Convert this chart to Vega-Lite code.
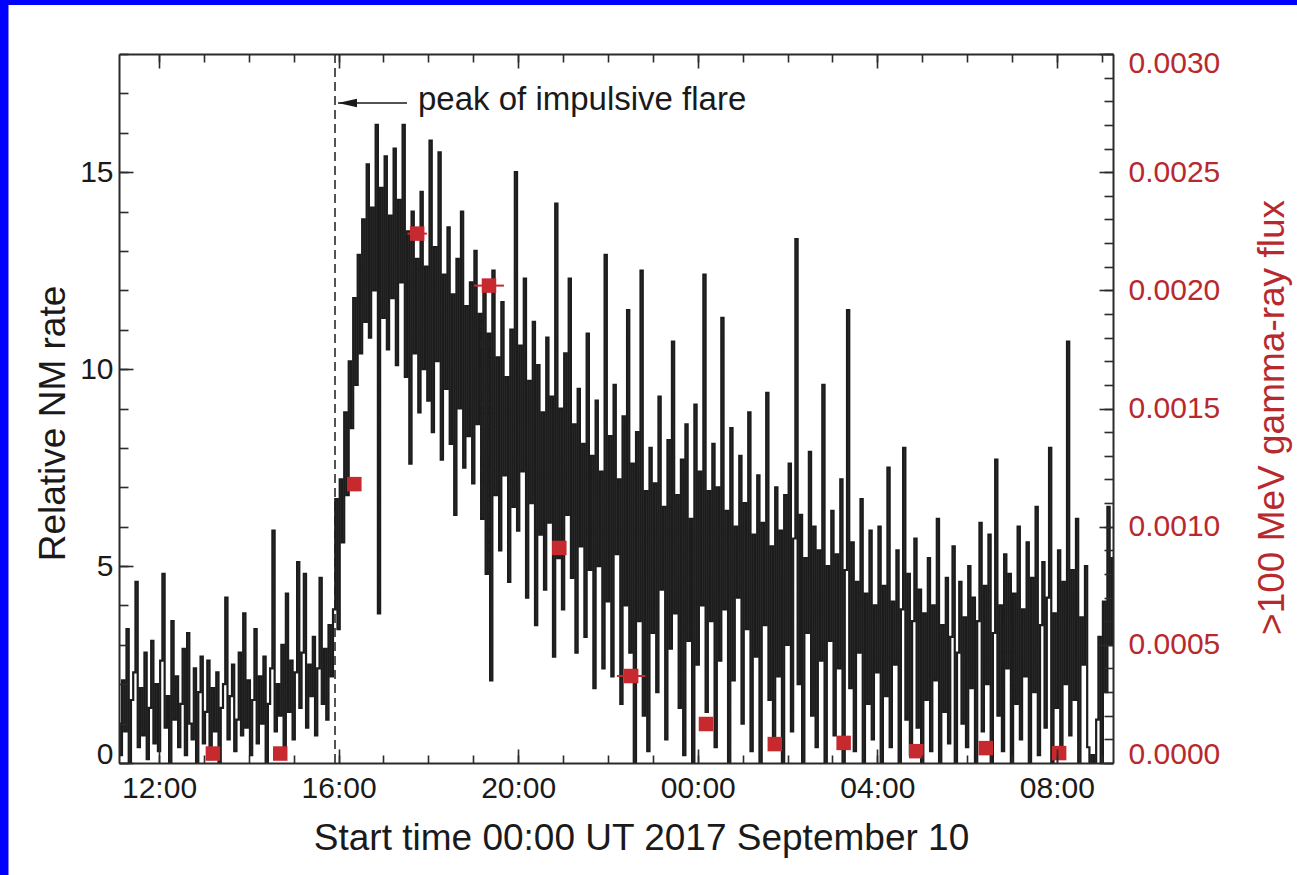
{
  "$schema": "https://vega.github.io/schema/vega-lite/v6.json",
  "width": 994,
  "height": 709,
  "autosize": {"type": "none"},
  "padding": {"left": 119, "top": 54, "right": 184, "bottom": 112},
  "background": "#0000ff",
  "config": {
    "font": "Liberation Sans",
    "view": {"stroke": null},
    "axis": {
      "grid": false, "zindex": 1,
      "domainColor": "#2b2b2b", "domainWidth": 2,
      "tickColor": "#2b2b2b", "tickWidth": 1.6,
      "labelFont": "Liberation Sans", "labelFontSize": 30, "labelColor": "#1a1a1a",
      "titleFont": "Liberation Sans", "titleFontSize": 37, "titleFontWeight": "normal", "titleColor": "#1a1a1a"
    }
  },
  "datasets": {
    "nm": [
      {"t":"2017-09-10T11:06Z","v":1.0},{"t":"2017-09-10T11:09Z","v":0.2},{"t":"2017-09-10T11:12Z","v":2.1},{"t":"2017-09-10T11:15Z","v":0.8},{"t":"2017-09-10T11:18Z","v":3.4},{"t":"2017-09-10T11:21Z","v":0.0},{"t":"2017-09-10T11:24Z","v":1.6},{"t":"2017-09-10T11:27Z","v":2.3},{"t":"2017-09-10T11:30Z","v":4.6},{"t":"2017-09-10T11:33Z","v":0.4},{"t":"2017-09-10T11:36Z","v":1.9},{"t":"2017-09-10T11:39Z","v":0.7},{"t":"2017-09-10T11:42Z","v":2.8},{"t":"2017-09-10T11:45Z","v":0.1},{"t":"2017-09-10T11:48Z","v":1.4},{"t":"2017-09-10T11:51Z","v":3.1},{"t":"2017-09-10T11:54Z","v":0.5},{"t":"2017-09-10T11:57Z","v":2.0},
      {"t":"2017-09-10T12:00Z","v":0.3},{"t":"2017-09-10T12:03Z","v":2.6},{"t":"2017-09-10T12:06Z","v":4.8},{"t":"2017-09-10T12:09Z","v":0.9},{"t":"2017-09-10T12:12Z","v":1.7},{"t":"2017-09-10T12:15Z","v":0.0},{"t":"2017-09-10T12:18Z","v":3.6},{"t":"2017-09-10T12:21Z","v":1.1},{"t":"2017-09-10T12:24Z","v":2.2},{"t":"2017-09-10T12:27Z","v":0.4},{"t":"2017-09-10T12:30Z","v":1.5},{"t":"2017-09-10T12:33Z","v":2.9},{"t":"2017-09-10T12:36Z","v":0.2},{"t":"2017-09-10T12:39Z","v":3.3},{"t":"2017-09-10T12:42Z","v":1.0},{"t":"2017-09-10T12:45Z","v":0.6},{"t":"2017-09-10T12:48Z","v":2.4},{"t":"2017-09-10T12:51Z","v":0.0},{"t":"2017-09-10T12:54Z","v":1.8},{"t":"2017-09-10T12:57Z","v":2.7},
      {"t":"2017-09-10T13:00Z","v":0.5},{"t":"2017-09-10T13:03Z","v":1.3},{"t":"2017-09-10T13:06Z","v":2.6},{"t":"2017-09-10T13:09Z","v":0.1},{"t":"2017-09-10T13:12Z","v":1.9},{"t":"2017-09-10T13:15Z","v":0.8},{"t":"2017-09-10T13:18Z","v":2.3},{"t":"2017-09-10T13:21Z","v":0.0},{"t":"2017-09-10T13:24Z","v":1.4},{"t":"2017-09-10T13:27Z","v":2.0},{"t":"2017-09-10T13:30Z","v":4.2},{"t":"2017-09-10T13:33Z","v":0.6},{"t":"2017-09-10T13:36Z","v":1.7},{"t":"2017-09-10T13:39Z","v":2.5},{"t":"2017-09-10T13:42Z","v":0.3},{"t":"2017-09-10T13:45Z","v":1.1},{"t":"2017-09-10T13:48Z","v":2.8},{"t":"2017-09-10T13:51Z","v":0.7},{"t":"2017-09-10T13:54Z","v":3.8},{"t":"2017-09-10T13:57Z","v":0.9},
      {"t":"2017-09-10T14:00Z","v":2.1},{"t":"2017-09-10T14:03Z","v":0.2},{"t":"2017-09-10T14:06Z","v":1.6},{"t":"2017-09-10T14:09Z","v":3.4},{"t":"2017-09-10T14:12Z","v":0.5},{"t":"2017-09-10T14:15Z","v":2.2},{"t":"2017-09-10T14:18Z","v":1.0},{"t":"2017-09-10T14:21Z","v":2.7},{"t":"2017-09-10T14:24Z","v":0.0},{"t":"2017-09-10T14:27Z","v":1.5},{"t":"2017-09-10T14:30Z","v":2.4},{"t":"2017-09-10T14:33Z","v":5.9},{"t":"2017-09-10T14:36Z","v":0.8},{"t":"2017-09-10T14:39Z","v":2.0},{"t":"2017-09-10T14:42Z","v":1.2},{"t":"2017-09-10T14:45Z","v":3.0},{"t":"2017-09-10T14:48Z","v":0.4},{"t":"2017-09-10T14:51Z","v":4.3},{"t":"2017-09-10T14:54Z","v":1.3},{"t":"2017-09-10T14:57Z","v":2.6},
      {"t":"2017-09-10T15:00Z","v":0.6},{"t":"2017-09-10T15:03Z","v":2.3},{"t":"2017-09-10T15:06Z","v":5.1},{"t":"2017-09-10T15:09Z","v":1.4},{"t":"2017-09-10T15:12Z","v":2.8},{"t":"2017-09-10T15:15Z","v":4.8},{"t":"2017-09-10T15:18Z","v":0.9},{"t":"2017-09-10T15:21Z","v":2.5},{"t":"2017-09-10T15:24Z","v":1.7},{"t":"2017-09-10T15:27Z","v":3.2},{"t":"2017-09-10T15:30Z","v":0.7},{"t":"2017-09-10T15:33Z","v":2.4},{"t":"2017-09-10T15:36Z","v":4.7},{"t":"2017-09-10T15:39Z","v":1.5},{"t":"2017-09-10T15:42Z","v":2.9},{"t":"2017-09-10T15:45Z","v":1.1},{"t":"2017-09-10T15:48Z","v":3.5},{"t":"2017-09-10T15:51Z","v":2.2},{"t":"2017-09-10T15:54Z","v":3.9},{"t":"2017-09-10T15:57Z","v":6.7},
      {"t":"2017-09-10T16:00Z","v":3.4},{"t":"2017-09-10T16:03Z","v":7.2},{"t":"2017-09-10T16:06Z","v":5.6},{"t":"2017-09-10T16:09Z","v":8.9},{"t":"2017-09-10T16:12Z","v":6.8},{"t":"2017-09-10T16:15Z","v":10.2},{"t":"2017-09-10T16:18Z","v":8.5},{"t":"2017-09-10T16:21Z","v":11.8},{"t":"2017-09-10T16:24Z","v":9.6},{"t":"2017-09-10T16:27Z","v":12.9},{"t":"2017-09-10T16:30Z","v":10.4},{"t":"2017-09-10T16:33Z","v":13.8},{"t":"2017-09-10T16:36Z","v":11.2},{"t":"2017-09-10T16:39Z","v":15.2},{"t":"2017-09-10T16:42Z","v":10.8},{"t":"2017-09-10T16:45Z","v":14.1},{"t":"2017-09-10T16:48Z","v":12.0},{"t":"2017-09-10T16:51Z","v":16.2},{"t":"2017-09-10T16:54Z","v":3.8},{"t":"2017-09-10T16:57Z","v":14.6},
      {"t":"2017-09-10T17:00Z","v":11.3},{"t":"2017-09-10T17:03Z","v":15.4},{"t":"2017-09-10T17:06Z","v":10.5},{"t":"2017-09-10T17:09Z","v":13.9},{"t":"2017-09-10T17:12Z","v":11.8},{"t":"2017-09-10T17:15Z","v":15.6},{"t":"2017-09-10T17:18Z","v":10.1},{"t":"2017-09-10T17:21Z","v":14.3},{"t":"2017-09-10T17:24Z","v":12.2},{"t":"2017-09-10T17:27Z","v":16.2},{"t":"2017-09-10T17:30Z","v":9.8},{"t":"2017-09-10T17:33Z","v":13.5},{"t":"2017-09-10T17:36Z","v":7.6},{"t":"2017-09-10T17:39Z","v":14.0},{"t":"2017-09-10T17:42Z","v":10.4},{"t":"2017-09-10T17:45Z","v":12.8},{"t":"2017-09-10T17:48Z","v":8.9},{"t":"2017-09-10T17:51Z","v":14.5},{"t":"2017-09-10T17:54Z","v":10.0},{"t":"2017-09-10T17:57Z","v":12.6},
      {"t":"2017-09-10T18:00Z","v":9.2},{"t":"2017-09-10T18:03Z","v":15.8},{"t":"2017-09-10T18:06Z","v":8.4},{"t":"2017-09-10T18:09Z","v":13.1},{"t":"2017-09-10T18:12Z","v":10.2},{"t":"2017-09-10T18:15Z","v":15.5},{"t":"2017-09-10T18:18Z","v":7.7},{"t":"2017-09-10T18:21Z","v":12.4},{"t":"2017-09-10T18:24Z","v":9.5},{"t":"2017-09-10T18:27Z","v":13.6},{"t":"2017-09-10T18:30Z","v":8.1},{"t":"2017-09-10T18:33Z","v":11.9},{"t":"2017-09-10T18:36Z","v":6.3},{"t":"2017-09-10T18:39Z","v":12.8},{"t":"2017-09-10T18:42Z","v":9.0},{"t":"2017-09-10T18:45Z","v":14.0},{"t":"2017-09-10T18:48Z","v":7.5},{"t":"2017-09-10T18:51Z","v":11.6},{"t":"2017-09-10T18:54Z","v":8.3},{"t":"2017-09-10T18:57Z","v":12.2},
      {"t":"2017-09-10T19:00Z","v":7.1},{"t":"2017-09-10T19:03Z","v":13.0},{"t":"2017-09-10T19:06Z","v":8.6},{"t":"2017-09-10T19:09Z","v":11.4},{"t":"2017-09-10T19:12Z","v":6.2},{"t":"2017-09-10T19:15Z","v":12.1},{"t":"2017-09-10T19:18Z","v":4.8},{"t":"2017-09-10T19:21Z","v":10.9},{"t":"2017-09-10T19:24Z","v":2.1},{"t":"2017-09-10T19:27Z","v":12.5},{"t":"2017-09-10T19:30Z","v":6.8},{"t":"2017-09-10T19:33Z","v":10.3},{"t":"2017-09-10T19:36Z","v":5.4},{"t":"2017-09-10T19:39Z","v":11.7},{"t":"2017-09-10T19:42Z","v":7.3},{"t":"2017-09-10T19:45Z","v":9.8},{"t":"2017-09-10T19:48Z","v":4.6},{"t":"2017-09-10T19:51Z","v":11.0},{"t":"2017-09-10T19:54Z","v":6.5},{"t":"2017-09-10T19:57Z","v":15.0},
      {"t":"2017-09-10T20:00Z","v":5.9},{"t":"2017-09-10T20:03Z","v":10.6},{"t":"2017-09-10T20:06Z","v":7.4},{"t":"2017-09-10T20:09Z","v":12.3},{"t":"2017-09-10T20:12Z","v":4.2},{"t":"2017-09-10T20:15Z","v":9.7},{"t":"2017-09-10T20:18Z","v":6.6},{"t":"2017-09-10T20:21Z","v":11.2},{"t":"2017-09-10T20:24Z","v":3.5},{"t":"2017-09-10T20:27Z","v":10.1},{"t":"2017-09-10T20:30Z","v":5.8},{"t":"2017-09-10T20:33Z","v":8.9},{"t":"2017-09-10T20:36Z","v":4.4},{"t":"2017-09-10T20:39Z","v":10.8},{"t":"2017-09-10T20:42Z","v":6.1},{"t":"2017-09-10T20:45Z","v":9.3},{"t":"2017-09-10T20:48Z","v":2.7},{"t":"2017-09-10T20:51Z","v":14.2},{"t":"2017-09-10T20:54Z","v":5.2},{"t":"2017-09-10T20:57Z","v":9.0},
      {"t":"2017-09-10T21:00Z","v":3.9},{"t":"2017-09-10T21:03Z","v":10.4},{"t":"2017-09-10T21:06Z","v":6.3},{"t":"2017-09-10T21:09Z","v":12.3},{"t":"2017-09-10T21:12Z","v":4.7},{"t":"2017-09-10T21:15Z","v":8.6},{"t":"2017-09-10T21:18Z","v":2.8},{"t":"2017-09-10T21:21Z","v":9.5},{"t":"2017-09-10T21:24Z","v":5.5},{"t":"2017-09-10T21:27Z","v":8.1},{"t":"2017-09-10T21:30Z","v":3.2},{"t":"2017-09-10T21:33Z","v":10.9},{"t":"2017-09-10T21:36Z","v":4.9},{"t":"2017-09-10T21:39Z","v":7.8},{"t":"2017-09-10T21:42Z","v":1.9},{"t":"2017-09-10T21:45Z","v":9.2},{"t":"2017-09-10T21:48Z","v":5.0},{"t":"2017-09-10T21:51Z","v":7.4},{"t":"2017-09-10T21:54Z","v":2.4},{"t":"2017-09-10T21:57Z","v":12.9},
      {"t":"2017-09-10T22:00Z","v":4.1},{"t":"2017-09-10T22:03Z","v":8.3},{"t":"2017-09-10T22:06Z","v":2.2},{"t":"2017-09-10T22:09Z","v":9.6},{"t":"2017-09-10T22:12Z","v":5.3},{"t":"2017-09-10T22:15Z","v":7.2},{"t":"2017-09-10T22:18Z","v":1.5},{"t":"2017-09-10T22:21Z","v":8.8},{"t":"2017-09-10T22:24Z","v":4.0},{"t":"2017-09-10T22:27Z","v":11.5},{"t":"2017-09-10T22:30Z","v":2.8},{"t":"2017-09-10T22:33Z","v":7.6},{"t":"2017-09-10T22:36Z","v":0.0},{"t":"2017-09-10T22:39Z","v":8.4},{"t":"2017-09-10T22:42Z","v":3.6},{"t":"2017-09-10T22:45Z","v":12.5},{"t":"2017-09-10T22:48Z","v":1.2},{"t":"2017-09-10T22:51Z","v":6.9},{"t":"2017-09-10T22:54Z","v":0.3},{"t":"2017-09-10T22:57Z","v":8.0},
      {"t":"2017-09-10T23:00Z","v":3.3},{"t":"2017-09-10T23:03Z","v":7.1},{"t":"2017-09-10T23:06Z","v":1.8},{"t":"2017-09-10T23:09Z","v":9.3},{"t":"2017-09-10T23:12Z","v":4.4},{"t":"2017-09-10T23:15Z","v":6.5},{"t":"2017-09-10T23:18Z","v":0.6},{"t":"2017-09-10T23:21Z","v":8.2},{"t":"2017-09-10T23:24Z","v":2.9},{"t":"2017-09-10T23:27Z","v":10.7},{"t":"2017-09-10T23:30Z","v":3.8},{"t":"2017-09-10T23:33Z","v":6.8},{"t":"2017-09-10T23:36Z","v":1.4},{"t":"2017-09-10T23:39Z","v":7.7},{"t":"2017-09-10T23:42Z","v":0.2},{"t":"2017-09-10T23:45Z","v":8.6},{"t":"2017-09-10T23:48Z","v":3.1},{"t":"2017-09-10T23:51Z","v":6.2},{"t":"2017-09-10T23:54Z","v":0.0},{"t":"2017-09-10T23:57Z","v":9.1},
      {"t":"2017-09-11T00:00Z","v":2.5},{"t":"2017-09-11T00:03Z","v":7.4},{"t":"2017-09-11T00:06Z","v":4.0},{"t":"2017-09-11T00:09Z","v":12.4},{"t":"2017-09-11T00:12Z","v":1.3},{"t":"2017-09-11T00:15Z","v":6.9},{"t":"2017-09-11T00:18Z","v":3.6},{"t":"2017-09-11T00:21Z","v":8.1},{"t":"2017-09-11T00:24Z","v":0.4},{"t":"2017-09-11T00:27Z","v":7.0},{"t":"2017-09-11T00:30Z","v":2.6},{"t":"2017-09-11T00:33Z","v":11.3},{"t":"2017-09-11T00:36Z","v":3.9},{"t":"2017-09-11T00:39Z","v":6.4},{"t":"2017-09-11T00:42Z","v":0.0},{"t":"2017-09-11T00:45Z","v":8.5},{"t":"2017-09-11T00:48Z","v":2.1},{"t":"2017-09-11T00:51Z","v":6.0},{"t":"2017-09-11T00:54Z","v":4.2},{"t":"2017-09-11T00:57Z","v":7.8},
      {"t":"2017-09-11T01:00Z","v":1.0},{"t":"2017-09-11T01:03Z","v":6.6},{"t":"2017-09-11T01:06Z","v":3.4},{"t":"2017-09-11T01:09Z","v":8.9},{"t":"2017-09-11T01:12Z","v":0.3},{"t":"2017-09-11T01:15Z","v":5.8},{"t":"2017-09-11T01:18Z","v":2.7},{"t":"2017-09-11T01:21Z","v":7.3},{"t":"2017-09-11T01:24Z","v":0.0},{"t":"2017-09-11T01:27Z","v":6.1},{"t":"2017-09-11T01:30Z","v":3.5},{"t":"2017-09-11T01:33Z","v":9.4},{"t":"2017-09-11T01:36Z","v":1.6},{"t":"2017-09-11T01:39Z","v":5.5},{"t":"2017-09-11T01:42Z","v":0.5},{"t":"2017-09-11T01:45Z","v":7.0},{"t":"2017-09-11T01:48Z","v":2.2},{"t":"2017-09-11T01:51Z","v":5.9},{"t":"2017-09-11T01:54Z","v":0.0},{"t":"2017-09-11T01:57Z","v":6.8},
      {"t":"2017-09-11T02:00Z","v":3.0},{"t":"2017-09-11T02:03Z","v":7.6},{"t":"2017-09-11T02:06Z","v":0.8},{"t":"2017-09-11T02:09Z","v":5.7},{"t":"2017-09-11T02:12Z","v":13.3},{"t":"2017-09-11T02:15Z","v":2.0},{"t":"2017-09-11T02:18Z","v":6.3},{"t":"2017-09-11T02:21Z","v":0.0},{"t":"2017-09-11T02:24Z","v":5.2},{"t":"2017-09-11T02:27Z","v":3.3},{"t":"2017-09-11T02:30Z","v":7.9},{"t":"2017-09-11T02:33Z","v":1.2},{"t":"2017-09-11T02:36Z","v":6.0},{"t":"2017-09-11T02:39Z","v":0.4},{"t":"2017-09-11T02:42Z","v":5.4},{"t":"2017-09-11T02:45Z","v":2.6},{"t":"2017-09-11T02:48Z","v":9.6},{"t":"2017-09-11T02:51Z","v":0.0},{"t":"2017-09-11T02:54Z","v":5.0},{"t":"2017-09-11T02:57Z","v":3.1},
      {"t":"2017-09-11T03:00Z","v":6.4},{"t":"2017-09-11T03:03Z","v":0.7},{"t":"2017-09-11T03:06Z","v":5.3},{"t":"2017-09-11T03:09Z","v":2.4},{"t":"2017-09-11T03:12Z","v":7.2},{"t":"2017-09-11T03:15Z","v":0.0},{"t":"2017-09-11T03:18Z","v":4.9},{"t":"2017-09-11T03:21Z","v":11.5},{"t":"2017-09-11T03:24Z","v":1.9},{"t":"2017-09-11T03:27Z","v":5.6},{"t":"2017-09-11T03:30Z","v":0.3},{"t":"2017-09-11T03:33Z","v":4.6},{"t":"2017-09-11T03:36Z","v":2.8},{"t":"2017-09-11T03:39Z","v":6.7},{"t":"2017-09-11T03:42Z","v":0.0},{"t":"2017-09-11T03:45Z","v":4.3},{"t":"2017-09-11T03:48Z","v":1.5},{"t":"2017-09-11T03:51Z","v":5.9},{"t":"2017-09-11T03:54Z","v":0.6},{"t":"2017-09-11T03:57Z","v":4.0},
      {"t":"2017-09-11T04:00Z","v":2.3},{"t":"2017-09-11T04:03Z","v":6.0},{"t":"2017-09-11T04:06Z","v":0.0},{"t":"2017-09-11T04:09Z","v":4.5},{"t":"2017-09-11T04:12Z","v":1.7},{"t":"2017-09-11T04:15Z","v":7.5},{"t":"2017-09-11T04:18Z","v":0.4},{"t":"2017-09-11T04:21Z","v":4.1},{"t":"2017-09-11T04:24Z","v":2.5},{"t":"2017-09-11T04:27Z","v":5.4},{"t":"2017-09-11T04:30Z","v":0.0},{"t":"2017-09-11T04:33Z","v":3.9},{"t":"2017-09-11T04:36Z","v":8.0},{"t":"2017-09-11T04:39Z","v":1.1},{"t":"2017-09-11T04:42Z","v":4.8},{"t":"2017-09-11T04:45Z","v":0.2},{"t":"2017-09-11T04:48Z","v":3.6},{"t":"2017-09-11T04:51Z","v":5.7},{"t":"2017-09-11T04:54Z","v":0.9},{"t":"2017-09-11T04:57Z","v":4.4},
      {"t":"2017-09-11T05:00Z","v":0.0},{"t":"2017-09-11T05:03Z","v":3.8},{"t":"2017-09-11T05:06Z","v":1.6},{"t":"2017-09-11T05:09Z","v":5.2},{"t":"2017-09-11T05:12Z","v":0.3},{"t":"2017-09-11T05:15Z","v":4.0},{"t":"2017-09-11T05:18Z","v":2.1},{"t":"2017-09-11T05:21Z","v":6.2},{"t":"2017-09-11T05:24Z","v":0.0},{"t":"2017-09-11T05:27Z","v":3.5},{"t":"2017-09-11T05:30Z","v":1.3},{"t":"2017-09-11T05:33Z","v":4.7},{"t":"2017-09-11T05:36Z","v":0.5},{"t":"2017-09-11T05:39Z","v":3.2},{"t":"2017-09-11T05:42Z","v":5.5},{"t":"2017-09-11T05:45Z","v":0.0},{"t":"2017-09-11T05:48Z","v":2.8},{"t":"2017-09-11T05:51Z","v":4.6},{"t":"2017-09-11T05:54Z","v":1.0},{"t":"2017-09-11T05:57Z","v":3.7},
      {"t":"2017-09-11T06:00Z","v":0.4},{"t":"2017-09-11T06:03Z","v":5.0},{"t":"2017-09-11T06:06Z","v":1.9},{"t":"2017-09-11T06:09Z","v":4.2},{"t":"2017-09-11T06:12Z","v":0.0},{"t":"2017-09-11T06:15Z","v":3.6},{"t":"2017-09-11T06:18Z","v":6.1},{"t":"2017-09-11T06:21Z","v":0.8},{"t":"2017-09-11T06:24Z","v":4.5},{"t":"2017-09-11T06:27Z","v":2.0},{"t":"2017-09-11T06:30Z","v":5.8},{"t":"2017-09-11T06:33Z","v":0.0},{"t":"2017-09-11T06:36Z","v":3.3},{"t":"2017-09-11T06:39Z","v":7.7},{"t":"2017-09-11T06:42Z","v":1.2},{"t":"2017-09-11T06:45Z","v":4.0},{"t":"2017-09-11T06:48Z","v":0.3},{"t":"2017-09-11T06:51Z","v":5.3},{"t":"2017-09-11T06:54Z","v":2.4},{"t":"2017-09-11T06:57Z","v":4.8},
      {"t":"2017-09-11T07:00Z","v":0.0},{"t":"2017-09-11T07:03Z","v":4.3},{"t":"2017-09-11T07:06Z","v":1.5},{"t":"2017-09-11T07:09Z","v":6.0},{"t":"2017-09-11T07:12Z","v":0.6},{"t":"2017-09-11T07:15Z","v":3.9},{"t":"2017-09-11T07:18Z","v":2.2},{"t":"2017-09-11T07:21Z","v":5.6},{"t":"2017-09-11T07:24Z","v":0.0},{"t":"2017-09-11T07:27Z","v":4.7},{"t":"2017-09-11T07:30Z","v":1.8},{"t":"2017-09-11T07:33Z","v":6.5},{"t":"2017-09-11T07:36Z","v":0.2},{"t":"2017-09-11T07:39Z","v":3.5},{"t":"2017-09-11T07:42Z","v":5.1},{"t":"2017-09-11T07:45Z","v":0.9},{"t":"2017-09-11T07:48Z","v":4.2},{"t":"2017-09-11T07:51Z","v":8.0},{"t":"2017-09-11T07:54Z","v":0.0},{"t":"2017-09-11T07:57Z","v":3.8},
      {"t":"2017-09-11T08:00Z","v":1.4},{"t":"2017-09-11T08:03Z","v":5.4},{"t":"2017-09-11T08:06Z","v":0.3},{"t":"2017-09-11T08:09Z","v":4.6},{"t":"2017-09-11T08:12Z","v":2.0},{"t":"2017-09-11T08:15Z","v":10.7},{"t":"2017-09-11T08:18Z","v":0.7},{"t":"2017-09-11T08:21Z","v":4.9},{"t":"2017-09-11T08:24Z","v":1.6},{"t":"2017-09-11T08:27Z","v":6.2},{"t":"2017-09-11T08:30Z","v":0.0},{"t":"2017-09-11T08:33Z","v":3.7},{"t":"2017-09-11T08:36Z","v":2.5},{"t":"2017-09-11T08:39Z","v":5.0},{"t":"2017-09-11T08:42Z","v":0.4},{"t":"2017-09-11T08:45Z","v":0.0},{"t":"2017-09-11T08:48Z","v":0.2},{"t":"2017-09-11T08:51Z","v":0.0},{"t":"2017-09-11T08:54Z","v":1.1},{"t":"2017-09-11T08:57Z","v":3.2},
      {"t":"2017-09-11T09:00Z","v":0.0},{"t":"2017-09-11T09:03Z","v":4.1},{"t":"2017-09-11T09:06Z","v":1.8},{"t":"2017-09-11T09:09Z","v":6.5},{"t":"2017-09-11T09:12Z","v":3.0},{"t":"2017-09-11T09:15Z","v":5.2}
    ],
    "gamma": [
      {"t":"2017-09-10T13:12Z","f":0.00004},
      {"t":"2017-09-10T14:42Z","f":0.00004},
      {"t":"2017-09-10T16:21Z","f":0.00118},
      {"t":"2017-09-10T17:45Z","f":0.00224},
      {"t":"2017-09-10T19:21Z","f":0.00202},
      {"t":"2017-09-10T20:55Z","f":0.00091},
      {"t":"2017-09-10T22:31Z","f":0.000368},
      {"t":"2017-09-11T00:11Z","f":0.000165},
      {"t":"2017-09-11T01:43Z","f":0.00008},
      {"t":"2017-09-11T03:15Z","f":0.000085},
      {"t":"2017-09-11T04:52Z","f":0.00005},
      {"t":"2017-09-11T06:25Z","f":0.000063},
      {"t":"2017-09-11T08:03Z","f":0.000042}
    ],
    "gammaerr": [
      {"lo":"2017-09-10T17:32Z","hi":"2017-09-10T17:58Z","f":0.00224},
      {"lo":"2017-09-10T19:01Z","hi":"2017-09-10T19:41Z","f":0.00202},
      {"lo":"2017-09-10T22:12Z","hi":"2017-09-10T22:50Z","f":0.000368}
    ],
    "one": [{}]
  },
  "resolve": {
    "scale": {"x": "independent", "y": "independent"},
    "axis": {"x": "independent", "y": "independent"}
  },
  "layer": [
    {
      "data": {"name": "one"},
      "mark": {"type": "rect", "color": "#ffffff"},
      "encoding": {
        "x": {"datum": 1505032728000, "type": "temporal", "scale": {"type": "utc", "domain": [1505041590000, 1505121300000], "nice": false}, "axis": null},
        "x2": {"datum": 1505140000000},
        "y": {"datum": -5, "type": "quantitative", "scale": {"domain": [0, 18], "nice": false}, "axis": null},
        "y2": {"datum": 19.244}
      }
    },
    {
      "data": {"name": "one"},
      "mark": {"type": "rule", "color": "#2b2b2b", "strokeWidth": 1.6, "strokeDash": [9, 5]},
      "encoding": {
        "x": {"datum": 1505058912000, "type": "temporal", "scale": {"type": "utc", "domain": [1505041590000, 1505121300000], "nice": false}, "axis": null}
      }
    },
    {
      "data": {"name": "nm"},
      "mark": {"type": "line", "interpolate": "step", "color": "#1c1c1c", "strokeWidth": 2.2, "clip": true},
      "encoding": {
        "x": {
          "field": "t", "type": "temporal",
          "scale": {"type": "utc", "domain": [1505041590000, 1505121300000], "nice": false},
          "axis": {
            "orient": "bottom", "zindex": 2,
            "values": [1505044800000, 1505059200000, 1505073600000, 1505088000000, 1505102400000, 1505116800000],
            "format": "%H:%M", "tickSize": -14, "labelPadding": 24, "labelFlush": false, "labelOverlap": false,
            "domain": true,
            "title": "Start time 00:00 UT 2017 September 10",
            "titleX": 522, "titleY": 86, "titleAlign": "center", "titleBaseline": "alphabetic", "titleAnchor": null
          }
        },
        "y": {
          "field": "v", "type": "quantitative",
          "scale": {"domain": [0, 18], "nice": false},
          "axis": {
            "orient": "left", "zindex": 2,
            "values": [0, 5, 10, 15],
            "tickSize": -14, "labelPadding": 20, "labelFlush": true, "labelFlushOffset": 6,
            "domain": true,
            "title": "Relative NM rate",
            "titleAngle": 270, "titleX": -55, "titleY": 369, "titleAlign": "center", "titleBaseline": "alphabetic"
          }
        }
      }
    },
    {
      "data": {"name": "gammaerr"},
      "mark": {"type": "rule", "color": "#c62a2f", "strokeWidth": 2},
      "encoding": {
        "x": {
          "field": "lo", "type": "temporal",
          "scale": {"type": "utc", "domain": [1505041590000, 1505121300000], "nice": false},
          "axis": {
            "orient": "bottom", "zindex": 2,
            "values": [1505044800000, 1505048400000, 1505052000000, 1505055600000, 1505059200000, 1505062800000, 1505066400000, 1505070000000, 1505073600000, 1505077200000, 1505080800000, 1505084400000, 1505088000000, 1505091600000, 1505095200000, 1505098800000, 1505102400000, 1505106000000, 1505109600000, 1505113200000, 1505116800000, 1505120400000],
            "tickSize": -8, "labels": false, "domain": false, "title": null
          }
        },
        "x2": {"field": "hi"},
        "y": {
          "field": "f", "type": "quantitative",
          "scale": {"domain": [0, 0.003], "nice": false},
          "axis": {
            "orient": "right", "zindex": 2,
            "values": [0, 0.0001, 0.0002, 0.0003, 0.0004, 0.0005, 0.0006, 0.0007, 0.0008, 0.0009, 0.001, 0.0011, 0.0012, 0.0013, 0.0014, 0.0015, 0.0016, 0.0017, 0.0018, 0.0019, 0.002, 0.0021, 0.0022, 0.0023, 0.0024, 0.0025, 0.0026, 0.0027, 0.0028, 0.0029, 0.003],
            "tickSize": -9, "labels": false, "domain": false, "title": null
          }
        }
      }
    },
    {
      "data": {"name": "gamma"},
      "mark": {"type": "square", "filled": true, "color": "#c62a2f", "size": 210, "opacity": 1},
      "encoding": {
        "x": {
          "field": "t", "type": "temporal",
          "scale": {"type": "utc", "domain": [1505041590000, 1505121300000], "nice": false},
          "axis": {
            "orient": "top", "zindex": 2,
            "values": [1505044800000, 1505059200000, 1505073600000, 1505088000000, 1505102400000, 1505116800000],
            "tickSize": -14, "labels": false, "domain": true, "title": null
          }
        },
        "y": {
          "field": "f", "type": "quantitative",
          "scale": {"domain": [0, 0.003], "nice": false},
          "axis": {
            "orient": "right", "zindex": 2,
            "values": [0, 0.0005, 0.001, 0.0015, 0.002, 0.0025, 0.003],
            "format": ".4f", "tickSize": -14, "labelPadding": 29, "labelFlush": true, "labelFlushOffset": 6,
            "labelColor": "#b8292e", "domain": true,
            "title": ">100 MeV gamma-ray flux", "titleColor": "#b8292e",
            "titleAngle": 270, "titleX": 170, "titleY": 363, "titleAlign": "center", "titleBaseline": "alphabetic"
          }
        }
      }
    },
    {
      "data": {"name": "one"},
      "mark": {"type": "rule", "color": "#1a1a1a", "strokeWidth": 1.5},
      "encoding": {
        "x": {
          "datum": 1505059152000, "type": "temporal",
          "scale": {"type": "utc", "domain": [1505041590000, 1505121300000], "nice": false},
          "axis": {
            "orient": "top", "zindex": 2,
            "values": [1505044800000, 1505048400000, 1505052000000, 1505055600000, 1505059200000, 1505062800000, 1505066400000, 1505070000000, 1505073600000, 1505077200000, 1505080800000, 1505084400000, 1505088000000, 1505091600000, 1505095200000, 1505098800000, 1505102400000, 1505106000000, 1505109600000, 1505113200000, 1505116800000, 1505120400000],
            "tickSize": -8, "labels": false, "domain": false, "title": null
          }
        },
        "x2": {"datum": 1505064684000},
        "y": {
          "datum": 16.756, "type": "quantitative",
          "scale": {"domain": [0, 18], "nice": false},
          "axis": {
            "orient": "left", "zindex": 2,
            "values": [0, 1, 2, 3, 4, 5, 6, 7, 8, 9, 10, 11, 12, 13, 14, 15, 16, 17, 18],
            "tickSize": -9, "labels": false, "domain": false, "title": null
          }
        }
      }
    },
    {
      "data": {"name": "one"},
      "mark": {"type": "point", "shape": "M-1,0L1,-0.45L1,0.45Z", "filled": true, "color": "#1a1a1a", "size": 361, "opacity": 1},
      "encoding": {
        "x": {"datum": 1505059914000, "type": "temporal", "scale": {"type": "utc", "domain": [1505041590000, 1505121300000], "nice": false}, "axis": null},
        "y": {"datum": 16.756, "type": "quantitative", "scale": {"domain": [0, 18], "nice": false}, "axis": null}
      }
    },
    {
      "data": {"name": "one"},
      "mark": {"type": "text", "align": "left", "baseline": "alphabetic", "font": "Liberation Sans", "fontSize": 33, "color": "#1a1a1a"},
      "encoding": {
        "x": {"datum": 1505065566000, "type": "temporal", "scale": {"type": "utc", "domain": [1505041590000, 1505121300000], "nice": false}, "axis": null},
        "y": {"datum": 16.578, "type": "quantitative", "scale": {"domain": [0, 18], "nice": false}, "axis": null},
        "text": {"value": "peak of impulsive flare"}
      }
    }
  ]
}
